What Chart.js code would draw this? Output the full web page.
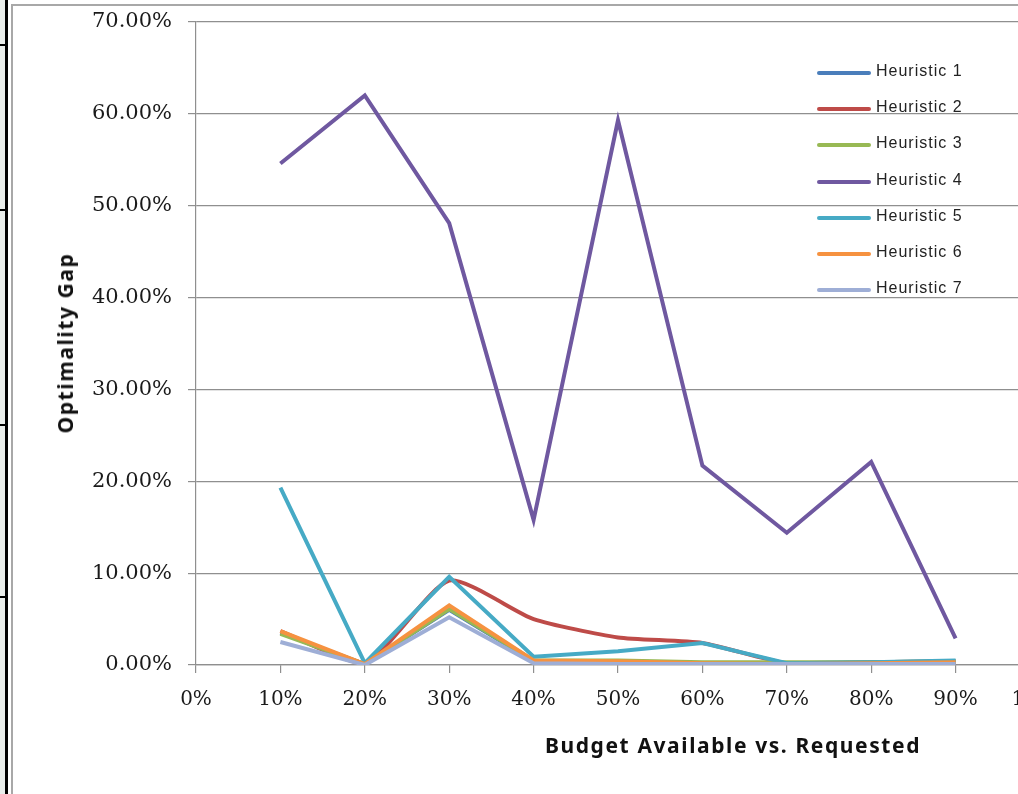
<!DOCTYPE html>
<html>
<head>
<meta charset="utf-8">
<script src="https://cdn.jsdelivr.net/npm/chart.js@4.4.1/dist/chart.umd.min.js"></script>
<style>
  html, body { margin: 0; padding: 0; background: #fff; width: 1018px; height: 794px; overflow: hidden; }
  #page { position: relative; width: 1018px; height: 794px; overflow: hidden; background: #fff; }
  .edge-strip { position: absolute; left: 0; top: 0; width: 5px; height: 794px; background: #e9edeb; }
  .edge-bar { position: absolute; left: 5px; top: 0; width: 3px; height: 794px; background: #000; }
  .edge-tick { position: absolute; left: 0; width: 8px; height: 2px; background: #000; }
  .frame-left { position: absolute; left: 11px; top: 4px; width: 2px; height: 790px; background: #a8a8a8; }
  .frame-top { position: absolute; left: 11px; top: 4px; width: 1007px; height: 2px; background: #a8a8a8; }
  #chartBox { position: absolute; left: 0; top: 0; width: 1100px; height: 794px; }
  .axis-title { position: absolute; font-family: "Noto Sans", sans-serif; font-weight: bold; font-size: 21px;
    color: #111; white-space: nowrap; letter-spacing: 1.6px; }
  #yTitle { left: 65px; top: 343px; transform: translate(-50%, -50%) rotate(-90deg); }
  #xTitle { left: 733px; top: 745px; transform: translate(-50%, -50%); }
  #legend { position: absolute; left: 817px; top: 62px; }
  .legend-row { position: absolute; left: 0; height: 24px; width: 180px; }
  .legend-line { position: absolute; left: 0; top: 9px; width: 54px; height: 4px; border-radius: 2px; }
  .legend-label { position: absolute; left: 59px; top: 0; font-family: "Liberation Sans", sans-serif; font-size: 16px;
    letter-spacing: 1px; color: #222; white-space: nowrap; }
</style>
</head>
<body>
<div id="page">
  <div class="edge-strip"></div>
  <div class="edge-bar"></div>
  <div class="edge-tick" style="top:44px"></div>
  <div class="edge-tick" style="top:209px"></div>
  <div class="edge-tick" style="top:424px"></div>
  <div class="edge-tick" style="top:596px"></div>
  <div class="frame-left"></div>
  <div class="frame-top"></div>
  <div id="chartBox"><canvas id="gapChart"></canvas></div>
  <div id="yTitle" class="axis-title">Optimality Gap</div>
  <div id="xTitle" class="axis-title">Budget Available  vs. Requested</div>
  <div id="legend"></div>
</div>
<script>
// budget available vs. requested (%)
const budgetLevels = [10, 20, 30, 40, 50, 60, 70, 80, 90];

// optimality gap (%) per heuristic
const heuristic1 = [3.5, 0.1, 6.0, 0.4, 0.4, 0.2, 0.2, 0.3, 0.3];
const heuristic2 = [3.7, 0.2, 9.2, 5.0, 3.0, 2.4, 0.2, 0.3, 0.4];
const heuristic3 = [3.4, 0.1, 6.1, 0.5, 0.5, 0.3, 0.3, 0.3, 0.4];
const heuristic4 = [54.6, 62.0, 48.1, 15.8, 59.3, 21.7, 14.4, 22.1, 2.9];
const heuristic5 = [19.3, 0.2, 9.6, 0.9, 1.5, 2.4, 0.2, 0.3, 0.5];
const heuristic6 = [3.7, 0.1, 6.5, 0.5, 0.4, 0.2, 0.1, 0.2, 0.3];
const heuristic7 = [2.5, 0.0, 5.2, 0.2, 0.1, 0.1, 0.1, 0.1, 0.1];

const seriesNames = ["Heuristic 1", "Heuristic 2", "Heuristic 3", "Heuristic 4", "Heuristic 5", "Heuristic 6", "Heuristic 7"];
const seriesValues = [heuristic1, heuristic2, heuristic3, heuristic4, heuristic5, heuristic6, heuristic7];

const xTicks = [0, 10, 20, 30, 40, 50, 60, 70, 80, 90, 100];
const yTicks = [0, 10, 20, 30, 40, 50, 60, 70];

const palette = {
  series: ["#4a7ebb", "#be4b48", "#98b954", "#6f58a0", "#46aac5", "#f69240", "#9eaed6"],
  grid: "#8f8f8f",
  tick: "#1a1a1a",
};

function buildDatasets() {
  return seriesNames.map((name, i) => ({
    label: name,
    data: budgetLevels.map((x, j) => ({ x: x, y: seriesValues[i][j] })),
    borderColor: palette.series[i],
    backgroundColor: palette.series[i],
    borderWidth: 4,
    pointRadius: 0,
    tension: i === 1 ? 0.2 : 0,
    order: seriesNames.length - i,
  }));
}

function renderLegend() {
  const legend = document.getElementById("legend");
  const rows = seriesNames.map((name, i) => {
    const row = document.createElement("div");
    row.className = "legend-row";
    row.style.top = (i * 36.2) + "px";
    const line = document.createElement("div");
    line.className = "legend-line";
    line.style.background = palette.series[i];
    const label = document.createElement("span");
    label.className = "legend-label";
    label.textContent = name;
    row.append(line, label);
    return row;
  });
  legend.replaceChildren(...rows);
}

function renderChart() {
  new Chart(document.getElementById("gapChart"), {
    type: "line",
    data: { datasets: buildDatasets() },
    options: {
      animation: false,
      responsive: true,
      maintainAspectRatio: false,
      devicePixelRatio: 1,
      layout: { padding: { top: 22, right: 60, bottom: 0, left: 0 } },
      plugins: { legend: { display: false }, tooltip: { enabled: false } },
      scales: {
        x: {
          type: "linear",
          min: 0,
          max: 100,
          afterBuildTicks: (scale) => { scale.ticks = xTicks.map((v) => ({ value: v })); },
          afterFit: (scale) => { scale.height = 129; },
          ticks: {
            autoSkip: false,
            maxRotation: 0,
            padding: 15,
            color: palette.tick,
            font: { family: "DejaVu Serif", size: 20 },
            callback: (v) => v + "%",
          },
          grid: { drawOnChartArea: false, drawTicks: true, tickLength: 8, color: palette.grid, lineWidth: 1.2 },
          border: { color: palette.grid, width: 1.2 },
        },
        y: {
          min: 0,
          max: 70,
          afterBuildTicks: (scale) => { scale.ticks = yTicks.map((v) => ({ value: v })); },
          afterFit: (scale) => {
            scale.width = 196;
            scale.paddingTop = 0;
            scale.paddingBottom = 0;
          },
          ticks: {
            padding: 16,
            color: palette.tick,
            font: { family: "DejaVu Serif", size: 21 },
            callback: (v) => v.toFixed(2) + "%",
          },
          grid: { drawTicks: true, tickLength: 8, color: palette.grid, lineWidth: 1.2 },
          border: { color: palette.grid, width: 1.2 },
        },
      },
    },
  });
}

renderLegend();
renderChart();
</script>
</body>
</html>
